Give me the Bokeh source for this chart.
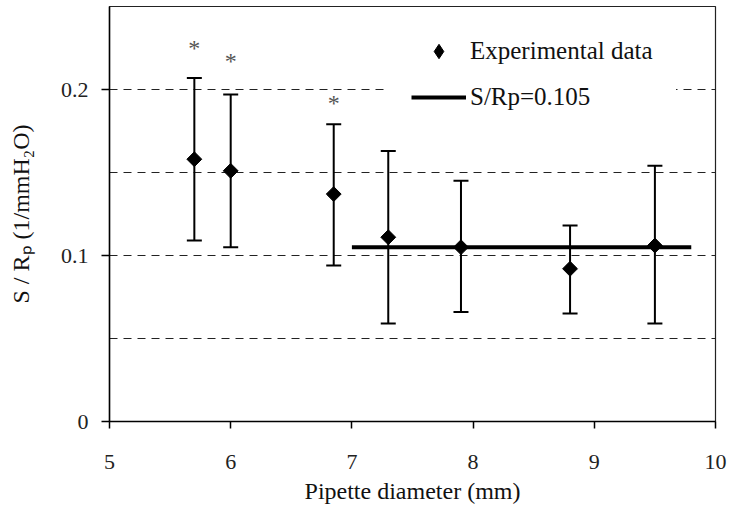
from bokeh.plotting import figure
from bokeh.models import (ColumnDataSource, Whisker, TeeHead, FixedTicker, Range1d,
                          CustomJSTickFormatter, Legend, LegendItem)
from bokeh.core.properties import value
from bokeh.embed import file_html
from bokeh.resources import INLINE
import numpy as np

# ---- data ----
diameter = [5.7, 6.0, 6.85, 7.3, 7.9, 8.8, 9.5]
s_rp = [0.158, 0.151, 0.137, 0.111, 0.105, 0.092, 0.106]
s_rp_upper = [0.207, 0.197, 0.179, 0.163, 0.145, 0.118, 0.154]
s_rp_lower = [0.109, 0.105, 0.094, 0.059, 0.066, 0.065, 0.059]

star_x = [5.7, 6.0, 6.85]
star_y = [0.225, 0.217, 0.192]
star_text = ["*", "*", "*"]

fit_x = [7.0, 9.8]
fit_y = [0.105, 0.105]

x_ticks = [5, 6, 7, 8, 9, 10]
y_ticks = [0, 0.1, 0.2]
y_grid = [0.05, 0.1, 0.15, 0.2]

FONT = "Liberation Serif"

p = figure(width=729, height=510, output_backend="svg", toolbar_location=None,
           x_range=Range1d(5, 10), y_range=Range1d(0, 0.25),
           min_border_left=109, min_border_right=14, min_border_top=6, min_border_bottom=89)
p.background_fill_color = "white"
p.border_fill_color = "white"
p.outline_line_color = "#222222"
p.outline_line_width = 1.2

# grid
p.xgrid.visible = False
p.ygrid.ticker = FixedTicker(ticks=y_grid)
p.ygrid.grid_line_color = "#222222"
p.ygrid.grid_line_dash = "8 6"
p.ygrid.grid_line_width = 1

# axes
for ax in (p.xaxis[0], p.yaxis[0]):
    ax.axis_line_color = "black"
    ax.axis_line_width = 1.5
    ax.major_tick_line_color = "black"
    ax.major_tick_line_width = 1.5
    ax.major_tick_in = 0
    ax.minor_tick_line_color = None
    ax.major_label_text_font = FONT
    ax.major_label_text_font_size = "22px"
    ax.major_label_text_color = "#222222"
    ax.axis_label_text_font = FONT
    ax.axis_label_text_font_size = "24px"
    ax.axis_label_text_font_style = "normal"
    ax.axis_label_text_color = "#111111"

p.xaxis.ticker = FixedTicker(ticks=x_ticks)
p.xaxis.major_tick_out = 7
p.xaxis.major_label_standoff = 26
p.xaxis.axis_label = "Pipette diameter (mm)"
p.xaxis.axis_label_standoff = 6

p.yaxis.ticker = FixedTicker(ticks=y_ticks)
p.yaxis.formatter = CustomJSTickFormatter(code="return tick.toString();")
p.yaxis.major_tick_out = 8
p.yaxis.major_label_standoff = 13
p.yaxis.axis_label = "S / R\u209a (1/mmH\u2082O)"
p.yaxis.axis_label_standoff = 24

# data
src = ColumnDataSource(dict(x=diameter, y=s_rp, upper=s_rp_upper, lower=s_rp_lower))

whisk = Whisker(base="x", upper="upper", lower="lower", source=src,
                line_color="black", line_width=2,
                upper_head=TeeHead(size=15, line_width=2, line_color="black"),
                lower_head=TeeHead(size=15, line_width=2, line_color="black"))
p.add_layout(whisk)

fit = p.line(fit_x, fit_y, line_color="black", line_width=4)

pts = p.scatter("x", "y", source=src, marker="square", angle=np.pi / 4, size=10.5,
                fill_color="black", line_color="black")

# hidden renderer used only for the diamond legend key
key = p.scatter("x", "y", source=src, marker="diamond", size=16,
                fill_color="black", line_color="black", visible=False)

p.text(x=star_x, y=star_y, text=star_text, text_font=value(FONT),
       text_font_size="24px", text_color="#555555", text_align="center",
       text_baseline="middle")

legend = Legend(items=[LegendItem(label="Experimental data", renderers=[key], index=0),
                       LegendItem(label="S/Rp=0.105", renderers=[fit])],
                location=(279, 283))
legend.label_text_font = FONT
legend.label_text_font_size = "25px"
legend.label_text_color = "#111111"
legend.glyph_width = 55
legend.glyph_height = 36
legend.label_height = 36
legend.label_standoff = 4
legend.spacing = 10
legend.padding = 22
legend.border_line_color = "white"
legend.border_line_alpha = 1.0
legend.background_fill_color = "white"
legend.background_fill_alpha = 1.0
legend.inactive_fill_alpha = 0.0
legend.click_policy = "none"
p.add_layout(legend)

open("out.html", "w").write(file_html(p, INLINE))
